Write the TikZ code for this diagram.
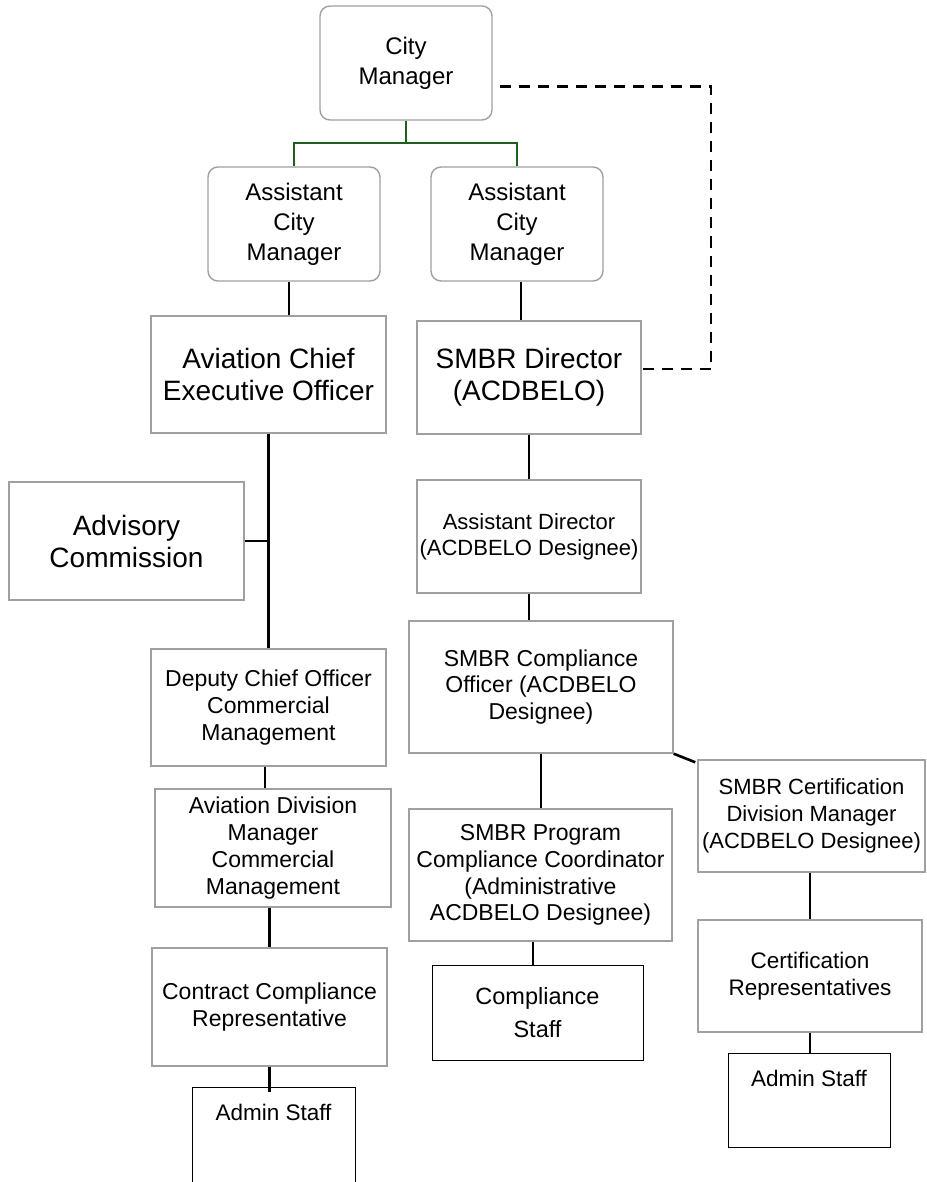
\documentclass[tikz,border=0pt]{standalone}
\usepackage{fontspec}
\setmainfont{Liberation Sans}
\usetikzlibrary{calc}
\definecolor{boxgray}{RGB}{160,160,160}
\definecolor{linkgreen}{RGB}{30,95,30}
\tikzset{
  orgbox/.style={draw=boxgray,line width=1.4pt,inner sep=0pt,align=center},
  roundbox/.style={orgbox,rounded corners=10pt},
  staffbox/.style={draw=black,line width=1pt,inner sep=0pt,align=center},
  link/.style={line width=2.6pt},
  greenlink/.style={line width=2.6pt,draw=linkgreen},
  dashlink/.style={line width=2.6pt,dash pattern=on 11pt off 8pt},
}
\begin{document}
\begin{tikzpicture}[x=1pt,y=-1pt]
        \useasboundingbox (0,0) rectangle (926,1182);
        \begin{scope}

          \node (cm) at (406,63) [roundbox,minimum width=172pt,minimum height=114pt,font=\fontsize{24}{30}\selectfont]{City\\Manager};
          \node (acm1) at (294,224) [roundbox,minimum width=172pt,minimum height=114pt,font=\fontsize{24}{30}\selectfont]{Assistant\\City\\Manager};
          \node (acm2) at (517,224) [roundbox,minimum width=172pt,minimum height=114pt,font=\fontsize{24}{30}\selectfont]{Assistant\\City\\Manager};
          \node (ceo) at (268.5,374.5) [orgbox,minimum width=235pt,minimum height=117pt,font=\fontsize{28}{32}\selectfont]{Aviation Chief\\Executive Officer};
          \node (dir) at (529,377.5) [orgbox,minimum width=224pt,minimum height=113pt,font=\fontsize{28}{32}\selectfont]{SMBR Director\\(ACDBELO)};
          \node (adv) at (126.5,541) [orgbox,minimum width=235pt,minimum height=118pt,font=\fontsize{28}{32}\selectfont]{Advisory\\Commission};
          \node (ad) at (529,536.5) [orgbox,minimum width=224pt,minimum height=113pt,font=\fontsize{22}{26}\selectfont]{Assistant Director\\(ACDBELO Designee)};
          \node (co) at (541,687) [orgbox,minimum width=264pt,minimum height=132pt,font=\fontsize{23}{26.7}\selectfont]{SMBR Compliance\\Officer (ACDBELO\\Designee)};
          \node (dco) at (268.5,707.5) [orgbox,minimum width=235pt,minimum height=117pt,font=\fontsize{23}{26.7}\selectfont]{Deputy Chief Officer\\Commercial\\Management};
          \node (adm) at (273,848) [orgbox,minimum width=236pt,minimum height=118pt,font=\fontsize{23}{26.7}\selectfont]{Aviation Division\\Manager\\Commercial\\Management};
          \node (pcc) at (540.5,875) [orgbox,minimum width=263pt,minimum height=132pt,font=\fontsize{23}{26.7}\selectfont]{SMBR Program\\Compliance Coordinator\\(Administrative\\ACDBELO Designee)};
          \node (cdm) at (811.5,816) [orgbox,minimum width=227pt,minimum height=112pt,font=\fontsize{22}{26.7}\selectfont]{SMBR Certification\\Division Manager\\(ACDBELO Designee)};
          \node (ccr) at (269.5,1007) [orgbox,minimum width=235pt,minimum height=118pt,font=\fontsize{23}{27}\selectfont]{Contract Compliance\\Representative};
          \node (cs) at (537.5,1012.5) [staffbox,minimum width=211pt,minimum height=95pt,font=\fontsize{23.5}{33}\selectfont]{Compliance\\Staff};
          \node (cr) at (810,976) [orgbox,minimum width=224pt,minimum height=112pt,font=\fontsize{22.5}{27}\selectfont]{Certification\\Representatives};
          \node (as2) at (809,1100) [staffbox,minimum width=162pt,minimum height=94pt,label={[below=17pt,inner sep=0pt,font=\fontsize{22.5}{27}\selectfont]north:Admin Staff}]{};
          \node (as1) at (273.5,1143.5) [staffbox,minimum width=163pt,minimum height=113pt,label={[below=17pt,inner sep=0pt,font=\fontsize{22.5}{27}\selectfont]north:Admin Staff}]{};

          \coordinate (cmj) at (406,143);
          \coordinate (dstart) at (500,86.5);
          \coordinate (dtop) at (711,86.5);
          \coordinate (dbot) at (711,369);

          \draw[greenlink] (cm) -- (cmj);
          \draw[greenlink] (acm1.north) |- (cmj) -| (acm2.north);
          \draw[dashlink] (dstart) -- (dtop) -- (dbot) -- (dbot -| dir.east);
          \draw[link] ($(acm1.south)+(-5,0)$) -- ($(acm1.south |- ceo.north)+(-5,0)$);
          \draw[link] ($(acm2.south)+(4,0)$) -- ($(acm2.south |- dir.north)+(4,0)$);
          \draw[link] (ceo) -- (dco);
          \draw[link] (adv) -- (adv -| ceo.south);
          \draw[link] ($(dco.south)+(-3.5,0)$) -- ($(dco.south |- adm.north)+(-3.5,0)$);
          \draw[link] (ccr.north |- adm.south) -- (ccr.north);
          \draw[link] (ccr.south) -- ($(ccr.south |- as1.north)+(0,5)$);
          \draw[link] (dir) -- (ad);
          \draw[link] (ad.south) -- (ad.south |- co.north);
          \draw[link] (co.south) -- (co.south |- pcc.north);
          \draw[link] (co.south east) -- ($(cdm.north west)+(-2,3)$);
          \draw[link] ($(cs.north)+(-4.5,0)$) -- ($(cs.north |- pcc.south)+(-4.5,0)$);
          \draw[link] (cr.north |- cdm.south) -- (cr.north);
          \draw[link] (cr.south) -- (cr.south |- as2.north);

        \end{scope}
\end{tikzpicture}
\end{document}
